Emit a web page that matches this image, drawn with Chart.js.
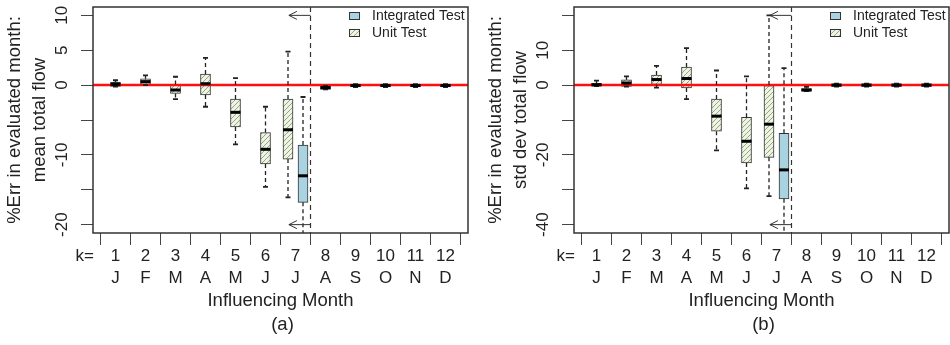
<!DOCTYPE html>
<html>
<head>
<meta charset="utf-8">
<script src="https://cdn.jsdelivr.net/npm/chart.js@4.4.1/dist/chart.umd.min.js"></script>
<style>
  body { margin: 0; background: #fff; }
  #wrap { display: flex; width: 950px; height: 345px; }
  canvas { display: block; }
</style>
</head>
<body>
<div id="wrap">
  <canvas id="panelA" width="475" height="345"></canvas>
  <canvas id="panelB" width="475" height="345"></canvas>
</div>
<script>
const kLabels = ['1', '2', '3', '4', '5', '6', '7', '8', '9', '10', '11', '12'];
const monthLetters = ['J', 'F', 'M', 'A', 'M', 'J', 'J', 'A', 'S', 'O', 'N', 'D'];
const seriesNames = ['Integrated Test', 'Unit Test'];

// where the boxes sit on the month axis (July has both, side by side)
const unitPos = [1, 2, 3, 4, 5, 6, 6.75];
const integPos = [7.25, 8, 9, 10, 11, 12];

// (a) mean total flow, %Err
const aUnitLow  = [-0.2, 0.0, -2.0, -3.1, -8.5, -14.6, -16.1];
const aUnitQ1   = [-0.2, 0.1, -1.2, -1.4, -6.0, -11.3, -10.6];
const aUnitMed  = [0.1, 0.5, -0.7, 0.2, -3.9, -9.2, -6.4];
const aUnitQ3   = [0.4, 0.9, 0.1, 1.6, -2.0, -6.8, -2.0];
const aUnitHigh = [0.7, 1.4, 1.2, 3.9, 1.0, -3.1, 4.8];

const aIntLow  = [-23, -0.6, -0.3, -0.3, -0.3, -0.3];
const aIntQ1   = [-16.8, -0.6, -0.25, -0.25, -0.25, -0.25];
const aIntMed  = [-13.0, -0.35, -0.05, -0.05, -0.05, -0.05];
const aIntQ3   = [-8.6, -0.1, 0.15, 0.15, 0.15, 0.15];
const aIntHigh = [-1.7, -0.1, 0.15, 0.15, 0.15, 0.15];

const aTicks = [-20, -15, -10, -5, 0, 5, 10];
const aTickLabels = [-20, -10, 0, 5, 10];
const aArrowY = [10, -20];

// (b) std dev total flow, %Err
const bUnitLow  = [-0.3, -0.4, -0.7, -4.0, -18.7, -29.6, -31.8];
const bUnitQ1   = [-0.3, -0.4, 0.2, -0.8, -13.2, -22.3, -20.7];
const bUnitMed  = [0.1, 0.6, 1.6, 1.9, -8.9, -16.1, -11.2];
const bUnitQ3   = [0.5, 1.5, 2.9, 5.2, -4.0, -9.2, 0.0];
const bUnitHigh = [1.3, 2.5, 5.5, 10.6, 4.2, 2.5, 20.0];

const bIntLow  = [-45, -1.7, -0.4, -0.4, -0.4, -0.4];
const bIntQ1   = [-32.6, -1.7, -0.4, -0.4, -0.4, -0.4];
const bIntMed  = [-24.3, -1.4, 0.0, 0.0, 0.0, 0.0];
const bIntQ3   = [-13.8, -1.0, 0.4, 0.4, 0.4, 0.4];
const bIntHigh = [4.9, -0.5, 0.4, 0.4, 0.4, 0.4];

const bTicks = [-40, -30, -20, -10, 0, 10, 20];
const bTickLabels = [-40, -20, 0, 10];
const bArrowY = [20, -40];

// dashed divider after the evaluated month, arrows run back to here
const dividerX = 7.5;
const arrowTipX = 6.78;

const FONT = "'Liberation Sans', Arial, sans-serif";
const INK = '#222';
const BLUE = '#a9d3e0';

function hatch() {
  const c = document.createElement('canvas');
  c.width = 5; c.height = 5;
  const g = c.getContext('2d');
  g.fillStyle = '#eef3e6';
  g.fillRect(0, 0, 5, 5);
  g.strokeStyle = '#8faa78';
  g.lineWidth = 1;
  g.beginPath();
  g.moveTo(-1, 6); g.lineTo(6, -1);
  g.moveTo(-1, 1); g.lineTo(1, -1);
  g.moveTo(4, 6); g.lineTo(6, 4);
  g.stroke();
  return g.createPattern(c, 'repeat');
}
const hatchFill = hatch();

function boxPoints(pos, q1, q3) {
  return pos.map((x, i) => ({ x: x, y: [q1[i], q3[i]] }));
}

const boxExtras = {
  id: 'boxExtras',
  afterDatasetsDraw(chart, args, o) {
    const ctx = chart.ctx;
    const area = chart.chartArea;
    const xs = chart.scales.x, ys = chart.scales.y;
    const px = v => xs.getPixelForValue(v);
    const py = v => ys.getPixelForValue(v);

    ctx.save();
    ctx.beginPath();
    ctx.rect(area.left, area.top, area.right - area.left, area.bottom - area.top);
    ctx.clip();

    // zero line
    ctx.strokeStyle = '#ff1010';
    ctx.lineWidth = 2.5;
    ctx.beginPath();
    ctx.moveTo(area.left, py(0));
    ctx.lineTo(area.right, py(0));
    ctx.stroke();

    o.groups.forEach(gr => {
      gr.pos.forEach((x, i) => {
        const cx = px(x);
        // whiskers
        ctx.strokeStyle = INK;
        ctx.lineWidth = 1.3;
        ctx.setLineDash([4, 3]);
        ctx.beginPath();
        if (gr.high[i] > gr.q3[i]) { ctx.moveTo(cx, py(gr.q3[i])); ctx.lineTo(cx, py(gr.high[i])); }
        if (gr.low[i] < gr.q1[i]) { ctx.moveTo(cx, py(gr.q1[i])); ctx.lineTo(cx, py(gr.low[i])); }
        ctx.stroke();
        ctx.setLineDash([]);
        ctx.lineWidth = 1.8;
        ctx.beginPath();
        ctx.moveTo(cx - 2.5, py(gr.high[i])); ctx.lineTo(cx + 2.5, py(gr.high[i]));
        ctx.moveTo(cx - 2.5, py(gr.low[i])); ctx.lineTo(cx + 2.5, py(gr.low[i]));
        ctx.stroke();
        // median
        ctx.strokeStyle = '#000';
        ctx.lineWidth = 3;
        ctx.beginPath();
        ctx.moveTo(cx - 5, py(gr.med[i]));
        ctx.lineTo(cx + 5, py(gr.med[i]));
        ctx.stroke();
      });
    });

    // divider and arrows
    ctx.strokeStyle = '#333';
    ctx.lineWidth = 1.2;
    ctx.setLineDash([5, 4]);
    ctx.beginPath();
    ctx.moveTo(px(dividerX), area.top);
    ctx.lineTo(px(dividerX), area.bottom);
    ctx.stroke();
    ctx.setLineDash([]);
    ctx.lineWidth = 1;
    o.arrowY.forEach(v => {
      const y = py(v), tip = px(arrowTipX);
      ctx.beginPath();
      ctx.moveTo(px(dividerX), y); ctx.lineTo(tip, y);
      ctx.moveTo(tip + 8, y - 4); ctx.lineTo(tip, y); ctx.lineTo(tip + 8, y + 4);
      ctx.stroke();
    });
    ctx.restore();

    // frame
    ctx.save();
    ctx.strokeStyle = '#333';
    ctx.lineWidth = 1.5;
    ctx.strokeRect(area.left, area.top, area.right - area.left, area.bottom - area.top);

    // y tick labels, rotated like base R
    ctx.fillStyle = INK;
    ctx.font = '17px ' + FONT;
    ctx.textAlign = 'center';
    ctx.textBaseline = 'middle';
    o.tickLabels.forEach(v => {
      ctx.save();
      ctx.translate(area.left - 31, py(v));
      ctx.rotate(-Math.PI / 2);
      ctx.fillText(String(v), 0, 0);
      ctx.restore();
    });

    // y axis title, two lines
    ctx.font = '18.5px ' + FONT;
    const midY = (area.top + area.bottom) / 2;
    o.yTitle.forEach((line, j) => {
      ctx.save();
      ctx.translate(area.left - 78 + j * 25, midY);
      ctx.rotate(-Math.PI / 2);
      ctx.fillText(line, 0, 0);
      ctx.restore();
    });

    // x axis title and panel tag
    const midX = (area.left + area.right) / 2;
    ctx.fillText('Influencing Month', midX, 301);
    ctx.fillText(o.tag, midX + 2, 325);

    ctx.font = '17px ' + FONT;
    ctx.textAlign = 'right';
    ctx.fillText('k=', area.left + 1, 256);

    // legend
    ctx.font = '14px ' + FONT;
    ctx.textAlign = 'left';
    const lx = area.right - 119;
    [BLUE, hatchFill].forEach((fill, j) => {
      const y = 12 + j * 17;
      ctx.fillStyle = fill;
      ctx.fillRect(lx, y, 11, 8);
      ctx.strokeStyle = '#333';
      ctx.lineWidth = 1;
      ctx.strokeRect(lx + 0.5, y + 0.5, 10, 7);
      ctx.fillStyle = INK;
      ctx.fillText(seriesNames[j], area.right - 96, y + 4.5);
    });
    ctx.restore();
  }
};

function makePanel(id, p) {
  new Chart(document.getElementById(id), {
    type: 'bar',
    data: {
      datasets: [
        {
          label: seriesNames[1],
          data: boxPoints(unitPos, p.unit.q1, p.unit.q3),
          backgroundColor: hatchFill,
          borderColor: '#333',
          borderWidth: 1,
          borderSkipped: false,
          barThickness: 10,
          grouped: false
        },
        {
          label: seriesNames[0],
          data: boxPoints(integPos, p.integ.q1, p.integ.q3),
          backgroundColor: BLUE,
          borderColor: '#333',
          borderWidth: 1,
          borderSkipped: false,
          barThickness: 10,
          grouped: false
        }
      ]
    },
    options: {
      responsive: false,
      animation: false,
      layout: { padding: { left: 0, top: 7, right: p.padRight, bottom: 0 } },
      plugins: {
        legend: { display: false },
        tooltip: { enabled: false },
        boxExtras: {
          groups: [
            { pos: unitPos, low: p.unit.low, q1: p.unit.q1, med: p.unit.med, q3: p.unit.q3, high: p.unit.high },
            { pos: integPos, low: p.integ.low, q1: p.integ.q1, med: p.integ.med, q3: p.integ.q3, high: p.integ.high }
          ],
          arrowY: p.arrowY,
          tickLabels: p.tickLabels,
          yTitle: p.yTitle,
          tag: p.tag
        }
      },
      scales: {
        x: {
          type: 'linear',
          min: 0.25,
          max: 12.75,
          offset: false,
          afterBuildTicks: s => { s.ticks = kLabels.map((_, i) => ({ value: i + 1 })); },
          afterFit: s => { s.height = 112; },
          grid: { display: true, drawOnChartArea: false, drawTicks: true, tickLength: 12, color: '#444' },
          border: { display: false },
          ticks: {
            autoSkip: false,
            maxRotation: 0,
            padding: 0,
            color: INK,
            font: { family: FONT, size: 17, lineHeight: 22 / 17 },
            callback: (v, i) => [kLabels[i], monthLetters[i]]
          }
        },
        y: {
          min: p.yMin,
          max: p.yMax,
          afterBuildTicks: s => { s.ticks = p.ticks.map(v => ({ value: v })); },
          afterFit: s => { s.width = p.yWidth; },
          grid: { display: true, drawOnChartArea: false, drawTicks: true, tickLength: 12, color: '#444' },
          border: { display: false },
          ticks: { display: false }
        }
      }
    },
    plugins: [boxExtras]
  });
}

makePanel('panelA', {
  unit: { low: aUnitLow, q1: aUnitQ1, med: aUnitMed, q3: aUnitQ3, high: aUnitHigh },
  integ: { low: aIntLow, q1: aIntQ1, med: aIntMed, q3: aIntQ3, high: aIntHigh },
  yMin: -21.2, yMax: 11.2,
  ticks: aTicks, tickLabels: aTickLabels, arrowY: aArrowY,
  yTitle: ['%Err in evaluated month:', 'mean total flow'],
  tag: '(a)',
  yWidth: 93, padRight: 7
});

makePanel('panelB', {
  unit: { low: bUnitLow, q1: bUnitQ1, med: bUnitMed, q3: bUnitQ3, high: bUnitHigh },
  integ: { low: bIntLow, q1: bIntQ1, med: bIntMed, q3: bIntQ3, high: bIntHigh },
  yMin: -42.4, yMax: 22.4,
  ticks: bTicks, tickLabels: bTickLabels, arrowY: bArrowY,
  yTitle: ['%Err in evaluated month:', 'std dev total flow'],
  tag: '(b)',
  yWidth: 99, padRight: 1
});
</script>
</body>
</html>
